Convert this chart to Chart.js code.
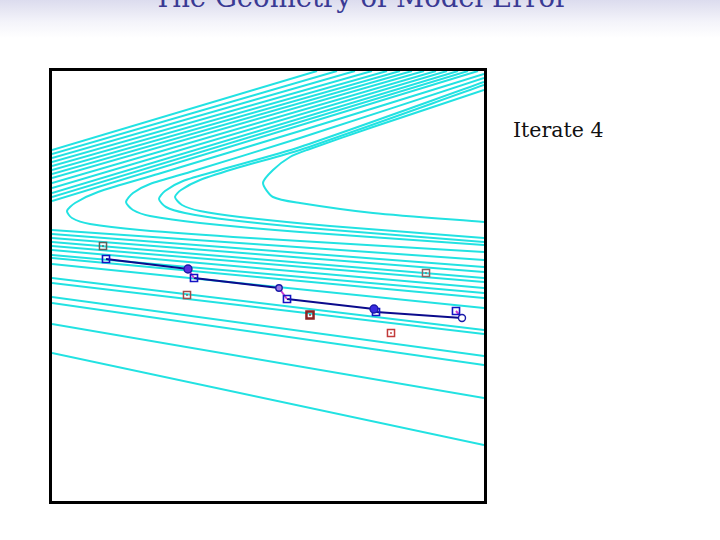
<!DOCTYPE html>
<html>
<head>
<meta charset="utf-8">
<script src="https://cdn.jsdelivr.net/npm/chart.js@4.4.1/dist/chart.umd.min.js"></script>
<style>
  html, body { margin: 0; padding: 0; }
  body {
    width: 720px; height: 540px; overflow: hidden; position: relative;
    background: linear-gradient(#dcdcee 0px, #f4f4fa 22px, #ffffff 38px, #ffffff 540px);
  }
  #title {
    position: absolute; left: 0; width: 722px; top: -16px;
    text-align: center; font-family: "DejaVu Serif", serif; font-size: 27.5px;
    line-height: 27.5px; color: #3a3a94; white-space: nowrap;
  }
  #iterate {
    position: absolute; left: 513px; top: 120px;
    font-family: "DejaVu Serif", serif; font-size: 20.5px; line-height: 20.5px;
    color: #111; white-space: nowrap;
  }
  #wrap { position: absolute; left: 0; top: 0; width: 720px; height: 540px; }
</style>
</head>
<body>
<div id="title">The Geometry of Model Error</div>
<div id="iterate">Iterate 4</div>
<div id="wrap"><canvas id="chart" width="720" height="540"></canvas></div>
<script>
// cost-function contours (cyan). upper bundle: left edge -> top edge
const bundleLeftY = [351, 347, 343, 339, 335, 331, 327, 323, 318, 313, 308, 304, 300]
const bundleTopX = [265, 285, 303, 320, 335, 348, 360, 372, 384, 395, 406, 416, 426]

// lower family: left edge -> right edge
const lowerLeftY = [271, 267, 263, 259, 255, 251, 246, 243, 237, 223, 218, 204, 198, 177, 148]
const lowerRightY = [241, 234, 229, 223, 219, 213, 208, 203, 193, 171, 167, 145, 136, 103, 56]

// the closed-in valley curves, outermost first
const valleyCurves = [
  [[432, 427], [248, 370], [106, 327], [46, 309], [23, 298], [15, 290], [20, 283], [38, 277], [88, 271], [198, 263], [432, 249]],
  [[432, 423], [248, 363], [138, 329], [98, 317], [81, 308], [74, 299], [81, 291], [98, 285], [148, 278], [248, 269], [432, 256]],
  [[432, 419], [248, 354], [168, 331], [131, 320], [113, 310], [107, 302], [114, 294], [133, 288], [178, 281], [268, 272], [432, 259]],
  [[432, 416], [248, 351], [188, 334], [148, 321], [129, 311], [123, 304], [130, 296], [148, 290], [188, 284], [278, 275], [432, 263]],
  [[432, 411], [321, 374], [255, 351], [238, 344], [221, 331], [211, 318], [221, 304], [248, 298], [321, 288], [432, 279]]
]

// analysis states (squares) and forecasts (circles)
const analysisX = [54, 142, 235, 324, 404]
const analysisY = [242, 223, 202, 189, 190]
const forecastX = [136, 227, 322, 410]
const forecastY = [232, 213, 192, 183]

// observations
const obsX = [51, 135, 258, 339, 374]
const obsY = [255, 206, 186, 168, 228]

const cyan = '#22e2e2'
const obsColors = ['#5c625c', '#a24a4a', '#8c2222', '#c23a3a', '#8c6464']
const datasets = []

function curve (pts, tension) {
  datasets.push({
    data: pts.map(p => ({ x: p[0], y: p[1] })),
    showLine: true,
    borderColor: cyan,
    borderWidth: 2,
    pointRadius: 0,
    tension: tension,
    order: 5
  })
}

function leg (a, b, color, order) {
  datasets.push({
    data: [a, b],
    showLine: true,
    borderColor: color,
    borderWidth: 2,
    pointRadius: 0,
    order: order
  })
}

bundleLeftY.forEach((y, i) => curve([[0, y], [bundleTopX[i], 430]], 0))
lowerLeftY.forEach((y, i) => curve([[0, y], [432, lowerRightY[i]]], 0))
valleyCurves.forEach(c => curve(c, 0.25))

// forecast leg: analysis i -> forecast i, then correction forecast i -> analysis i+1
forecastX.forEach((x, i) => {
  const f = { x: x, y: forecastY[i] }
  leg({ x: analysisX[i], y: analysisY[i] }, f, '#0b0b8c', 4)
  leg(f, { x: analysisX[i + 1], y: analysisY[i + 1] }, '#cc3fd0', 3)
})

datasets.push({
  data: obsX.map((x, i) => ({ x: x, y: obsY[i] })),
  pointStyle: 'rect',
  pointRadius: 5,
  borderWidth: [1.5, 1.5, 2.5, 1.5, 1.5],
  borderColor: obsColors,
  backgroundColor: 'rgba(255,255,255,0)',
  order: 2
})
datasets.push({
  data: obsX.map((x, i) => ({ x: x, y: obsY[i] })),
  pointStyle: 'circle',
  pointRadius: 0.9,
  borderWidth: 0,
  backgroundColor: obsColors,
  order: 2
})

datasets.push({
  data: analysisX.map((x, i) => ({ x: x, y: analysisY[i] })),
  pointStyle: 'rect',
  pointRadius: 5,
  borderWidth: 1.6,
  borderColor: '#1414c4',
  backgroundColor: 'rgba(255,255,255,0)',
  order: 1
})
datasets.push({
  data: forecastX.map((x, i) => ({ x: x, y: forecastY[i] })),
  pointStyle: 'circle',
  pointRadius: [4, 3.2, 4, 3.5],
  borderWidth: 1.4,
  borderColor: '#1a1aa8',
  backgroundColor: ['#5a2ee0', '#9a7ae6', '#3a2be0', '#ffffff'],
  order: 0
})

const frame = {
  id: 'frame',
  afterDatasetsDraw (chart) {
    const a = chart.chartArea
    const ctx = chart.ctx
    ctx.save()
    ctx.strokeStyle = '#000'
    ctx.lineWidth = 3
    ctx.strokeRect(a.left - 1.5, a.top - 1.5, a.right - a.left + 3, a.bottom - a.top + 3)
    ctx.restore()
  }
}

new Chart(document.getElementById('chart').getContext('2d'), {
  type: 'scatter',
  data: { datasets: datasets },
  options: {
    responsive: false,
    animation: false,
    layout: { padding: { left: 52, top: 71, right: 236, bottom: 39 } },
    scales: {
      x: { type: 'linear', min: 0, max: 432, display: false },
      y: { type: 'linear', min: 0, max: 430, display: false }
    },
    plugins: {
      legend: { display: false },
      tooltip: { enabled: false }
    }
  },
  plugins: [frame]
})
</script>
</body>
</html>
